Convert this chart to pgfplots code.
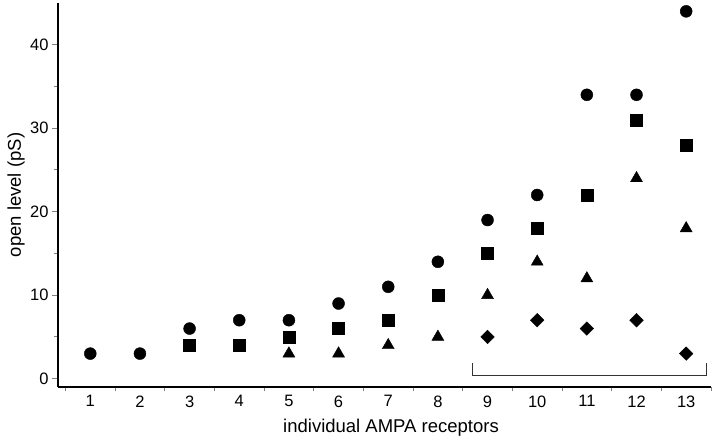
\documentclass[border=0pt]{standalone}
\usepackage{pgfplots}
\pgfplotsset{compat=1.18}
\usepackage{fontspec}
\setmainfont{Liberation Sans}
\begin{document}
\begin{tikzpicture}[x=1pt,y=1pt]
\path[use as bounding box] (-58,-54) rectangle (662,387);
\begin{axis}[
  at={(0,0)}, anchor=south west, scale only axis,
  width=653pt, height=384pt,
  xmin=0.35, xmax=13.5, ymin=-1, ymax=45,
  axis x line*=bottom, axis y line*=left,
  axis line style={line width=1.1pt, -},
  xtick={1,...,13},
  minor xtick={0.5,1.5,...,13.5},
  ytick={0,10,20,30,40},
  minor ytick={5,15,25,35},
  tick align=outside,
  major x tick style={draw=none},
  x tick style={line width=1pt},
  y tick style={line width=1pt},
  major tick length=6pt, minor tick length=4.5pt,
  /pgf/number format/assume math mode=true,
  tick label style={font=\fontsize{16.5}{18}\selectfont},
  xticklabel style={yshift=1pt},
  label style={font=\fontsize{18.5}{21}\selectfont},
  xlabel={individual AMPA receptors},
  ylabel={open level (pS)},
  xlabel style={at={(axis description cs:0.51,-0.107)}, anchor=center},
  ylabel style={at={(axis description cs:-0.064,0.5)}, anchor=center},
  clip=false,
]
\addplot[only marks, mark=*, mark size=6pt, black] coordinates {
(1,3) (2,3) (3,6) (4,7) (5,7) (6,9) (7,11) (8,14) (9,19) (10,22) (11,34) (12,34) (13,44)};
\addplot[only marks, mark=square*, mark size=6pt, black] coordinates {
(3,4) (4,4) (5,5) (6,6) (7,7) (8,10) (9,15) (10,18) (11,22) (12,31) (13,28)};
\addplot[only marks, mark=triangle*, mark size=6.9pt, black] coordinates {
(5,3) (6,3) (7,4) (8,5) (9,10) (10,14) (11,12) (12,24) (13,18)};
\addplot[only marks, mark=square*, mark size=4.8pt, mark options={rotate=45}, black] coordinates {
(9,5) (10,7) (11,6) (12,7) (13,3)};
\draw[line width=0.9pt, black!80] (axis cs:8.7,1.9) -- (axis cs:8.7,0.4) -- (axis cs:13.4,0.4) -- (axis cs:13.4,1.9);
\end{axis}
\end{tikzpicture}
\end{document}
